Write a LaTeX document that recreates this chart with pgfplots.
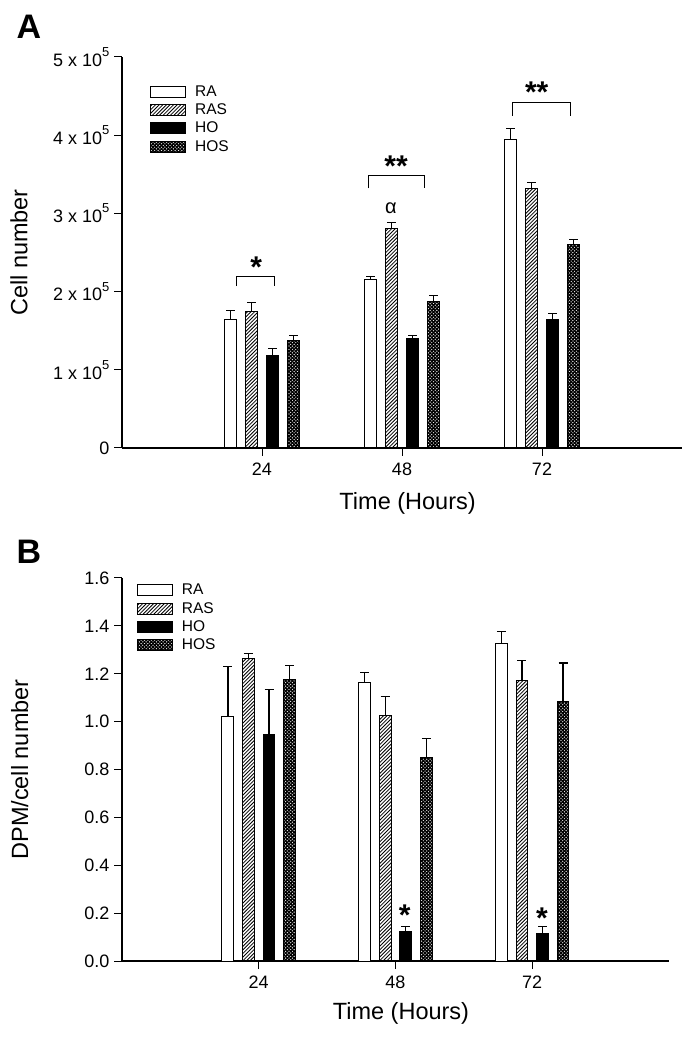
\documentclass[border=0pt]{standalone}
\usepackage{fontspec}
\setmainfont{Liberation Sans}
\usepackage{pgfplots}
\usepackage{pgfplotstable}
\pgfplotsset{compat=1.18}
\usetikzlibrary{patterns}

% hatch patterns for the bars
\pgfdeclarepatternformonly{hatch}{\pgfqpoint{-1pt}{-1pt}}{\pgfqpoint{5pt}{5pt}}{\pgfqpoint{3.6pt}{3.6pt}}{%
  \pgfsetlinewidth{0.8pt}
  \pgfpathmoveto{\pgfqpoint{0pt}{0pt}}
  \pgfpathlineto{\pgfqpoint{3.7pt}{3.7pt}}
  \pgfusepath{stroke}}
\pgfdeclarepatternformonly{xhatch}{\pgfqpoint{-1pt}{-1pt}}{\pgfqpoint{5pt}{5pt}}{\pgfqpoint{3.4pt}{3.4pt}}{%
  \pgfsetlinewidth{1.2pt}
  \pgfpathmoveto{\pgfqpoint{0pt}{0pt}}
  \pgfpathlineto{\pgfqpoint{3.5pt}{3.5pt}}
  \pgfpathmoveto{\pgfqpoint{0pt}{3.4pt}}
  \pgfpathlineto{\pgfqpoint{3.5pt}{-0.1pt}}
  \pgfusepath{stroke}}

% cell number (A), value and upper error
\pgfplotstableread{
x ra rae ras rase ho hoe hos hose
24 164000 12000 174000 12000 118000 9000 138000 6000
48 215000 4000 281000 7000 140000 4000 187000 8000
72 394000 15000 332000 8000 164000 8000 260000 7000
}\cellA

% DPM/cell number (B)
\pgfplotstableread{
x ra rae ras rase ho hoe hos hose
24 1.02 0.21 1.265 0.02 0.945 0.19 1.175 0.06
48 1.165 0.04 1.025 0.08 0.125 0.02 0.850 0.08
72 1.325 0.05 1.170 0.085 0.115 0.03 1.085 0.16
}\dpmB

\tikzset{sigstar/.style={anchor=north, inner sep=0pt, font=\bfseries\fontsize{30}{30}\selectfont}}
\newcommand{\sci}[1]{#1 x 10\raisebox{0.55em}{\fontsize{13}{13}\selectfont 5}}

\pgfplotsset{
  panel/.style={
    scale only axis, anchor=south west, ybar, clip=false,
    xmin=0, xmax=96, xtick={24,48,72}, ymin=0,
    axis x line*=bottom, axis y line*=left,
    axis line style={line width=1.2pt},
    tick align=outside, major tick length=8pt,
    every tick/.style={black, line width=1pt},
    bar width=2.1,
    /pgf/number format/assume math mode=true,
    tick label style={font=\fontsize{18}{20}\selectfont},
    xticklabel style={yshift=-3pt},
    yticklabel style={xshift=-1pt},
    label style={font=\fontsize{23.5}{26}\selectfont},
    legend style={draw=none, fill=none, inner sep=0pt, anchor=north west,
      font=\fontsize{15.5}{16}\selectfont, row sep=4pt,
      nodes={inner sep=1pt},
      /tikz/every odd column/.append style={column sep=8pt}},
    legend cell align=left,
    legend image code/.code={\draw[##1, line width=1pt] (0pt,-5.5pt) rectangle (35pt,5.5pt);},
    error bars/y dir=plus, error bars/y explicit,
    error bars/error bar style={black, line width=1.2pt},
    error bars/error mark options={black, rotate=90, line width=1.2pt, mark size=4.5pt},
  },
  bRA/.style={draw=black, fill=white, line width=1pt, bar shift=-5.4},
  bRAS/.style={draw=black, pattern=hatch, line width=1pt, bar shift=-1.8},
  bHO/.style={draw=black, fill=black, line width=1pt, bar shift=1.8},
  bHOS/.style={draw=black, pattern=xhatch, line width=1pt, bar shift=5.4},
}

\begin{document}
\begin{tikzpicture}
\useasboundingbox (0pt,0pt) rectangle (692pt,1038pt);

\begin{axis}[panel, at={(122pt,590pt)}, width=560pt, height=391pt,
  ymax=500000, scaled y ticks=false,
  ytick={0,100000,200000,300000,400000,500000},
  yticklabels={0, \sci{1}, \sci{2}, \sci{3}, \sci{4}, \sci{5}},
  xlabel={Time (Hours)}, ylabel={Cell number},
  xlabel style={at={(axis description cs:0.51,-0.141)}, anchor=center},
  ylabel style={at={(axis description cs:-0.184,0.5)}, anchor=center},
  legend style={at={(axis description cs:0.05,0.93)}},
]
\addplot[bRA] table[x=x, y=ra, y error=rae]{\cellA};
\addplot[bRAS] table[x=x, y=ras, y error=rase]{\cellA};
\addplot[bHO] table[x=x, y=ho, y error=hoe]{\cellA};
\addplot[bHOS] table[x=x, y=hos, y error=hose]{\cellA};
\legend{RA,RAS,HO,HOS}
% significance brackets
\draw[line width=1pt] (axis cs:19.7,207000) |- (axis cs:26.2,219000) -- (axis cs:26.2,207000);
\draw[line width=1pt] (axis cs:42.2,332000) |- (axis cs:51.8,349000) -- (axis cs:51.8,332000);
\draw[line width=1pt] (axis cs:67.0,425000) |- (axis cs:76.8,442000) -- (axis cs:76.8,425000);
\node[sigstar] at (axis cs:23,245000) {*};
\node[sigstar] at (axis cs:47,374000) {**};
\node[sigstar] at (axis cs:71.1,469000) {**};
\node[inner sep=0pt, font=\fontsize{20}{20}\selectfont] at (axis cs:46.1,307000) {α};
\end{axis}

\begin{axis}[panel, at={(122pt,77pt)}, width=547pt, height=383pt,
  ymax=1.6, ytick={0,0.2,...,1.6},
  yticklabel style={/pgf/number format/.cd, fixed, fixed zerofill, precision=1},
  xlabel={Time (Hours)}, ylabel={DPM/cell number},
  xlabel style={at={(axis description cs:0.51,-0.136)}, anchor=center},
  ylabel style={at={(axis description cs:-0.187,0.5)}, anchor=center},
  legend style={at={(axis description cs:0.027,0.987)}},
]
\addplot[bRA] table[x=x, y=ra, y error=rae]{\dpmB};
\addplot[bRAS] table[x=x, y=ras, y error=rase]{\dpmB};
\addplot[bHO] table[x=x, y=ho, y error=hoe]{\dpmB};
\addplot[bHOS] table[x=x, y=hos, y error=hose]{\dpmB};
\legend{RA,RAS,HO,HOS}
\node[sigstar] at (axis cs:49.6,0.236) {*};
\node[sigstar] at (axis cs:73.7,0.223) {*};
\end{axis}

\node[font=\bfseries\fontsize{34}{34}\selectfont] at (29pt,1011pt) {A};
\node[font=\bfseries\fontsize{34}{34}\selectfont] at (29pt,486pt) {B};
\end{tikzpicture}
\end{document}
